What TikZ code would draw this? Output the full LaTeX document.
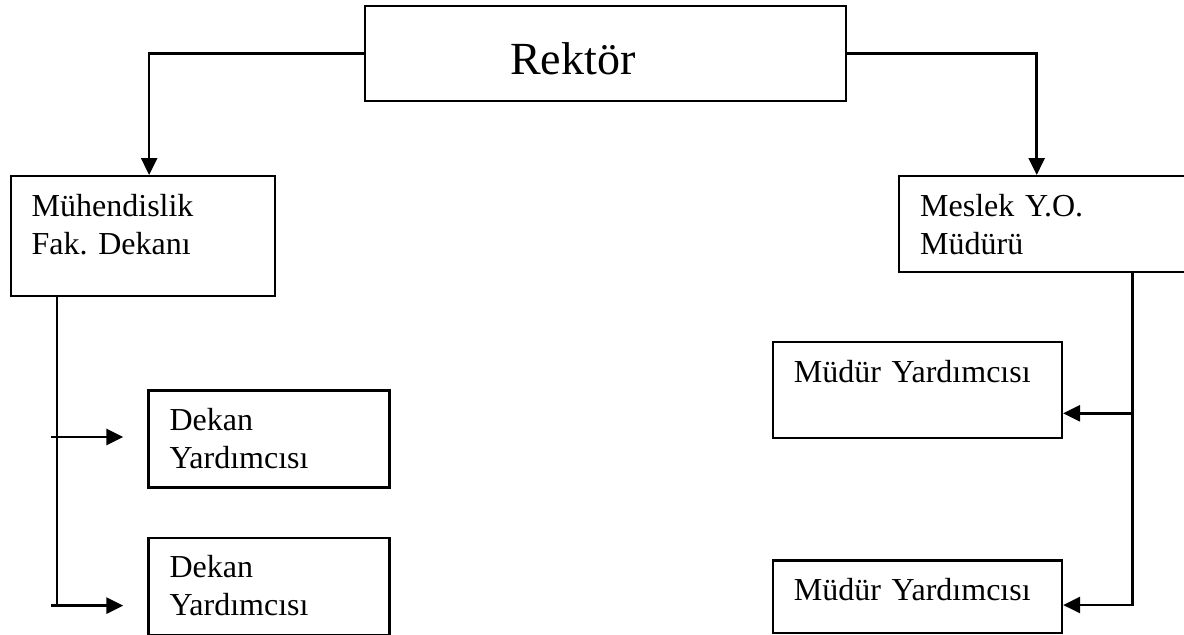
\documentclass[tikz,border=0pt]{standalone}
\usepackage{fontspec}
\setmainfont{Liberation Serif}
\usetikzlibrary{arrows.meta, positioning}
\frenchspacing

\begin{document}
\begin{tikzpicture}[
  x=0.5pt, y=-0.5pt,
  every node/.style={font=\fontsize{16pt}{19pt}\selectfont},
  kutu/.style={draw, line width=1.2pt, anchor=north west, align=left,
    inner xsep=10.5pt, inner ysep=0pt, text height=20pt},
  ok/.style={-{Triangle[length=8.5pt, width=8pt]}, line width=1.3pt},
  hat/.style={line width=1.3pt},
]
\clip (0,0) rectangle (1184,634);

\node[kutu, font=\fontsize{23pt}{28pt}\selectfont, inner xsep=72.75pt,
  text width=95pt, text height=34.15pt, text depth=13.35pt]
  (rektor) at (363.5,5) {Rektör};

\node[kutu, text width=111.25pt, text depth=40pt] (muh) at (9.5,175)
  {Mühendislik\\Fak. Dekanı};
\node[kutu, text width=129pt, text depth=28pt] (meslek) at (898,175)
  {Meslek Y.O.\\Müdürü};

\node[kutu, text width=99.5pt, text depth=28.5pt] (dek1) at (147.3,389.2)
  {Dekan\\Yardımcısı};
\node[kutu, text width=99.5pt, text depth=28.5pt,
  below=24pt of dek1.south west, anchor=north west] (dek2)
  {Dekan\\Yardımcısı};

\node[kutu, text width=123.5pt, text depth=28pt] (mud1) at (771.7,341)
  {Müdür Yardımcısı};
\node[kutu, text width=123.5pt, text depth=16.3pt,
  below=60pt of mud1.south west, anchor=north west] (mud2)
  {Müdür Yardımcısı};

\coordinate (sol1) at (51,437);
\coordinate (sol2) at (51,605.6);
\coordinate (solalt) at (57,607);
\coordinate (sag1) at (1132.7,413.3);
\coordinate (sag2) at (1132.7,605);

\draw[ok] (rektor.west) -| ([xshift=3.1pt]muh.north);
\draw[ok] (rektor.east) -| ([xshift=69.35pt]meslek.north west);

\draw[hat] ([xshift=23.75pt]muh.south west) -- (solalt);
\draw[ok, shorten >=12pt] (sol1) -- (sol1 -| dek1.west);
\draw[ok, shorten >=12pt] (sol2) -- (sol2 -| dek2.west);

\draw[ok] ([xshift=117.35pt]meslek.south west) |- (sag2 -| mud2.east);
\draw[ok] (sag1) -- (sag1 -| mud1.east);
\end{tikzpicture}
\end{document}
